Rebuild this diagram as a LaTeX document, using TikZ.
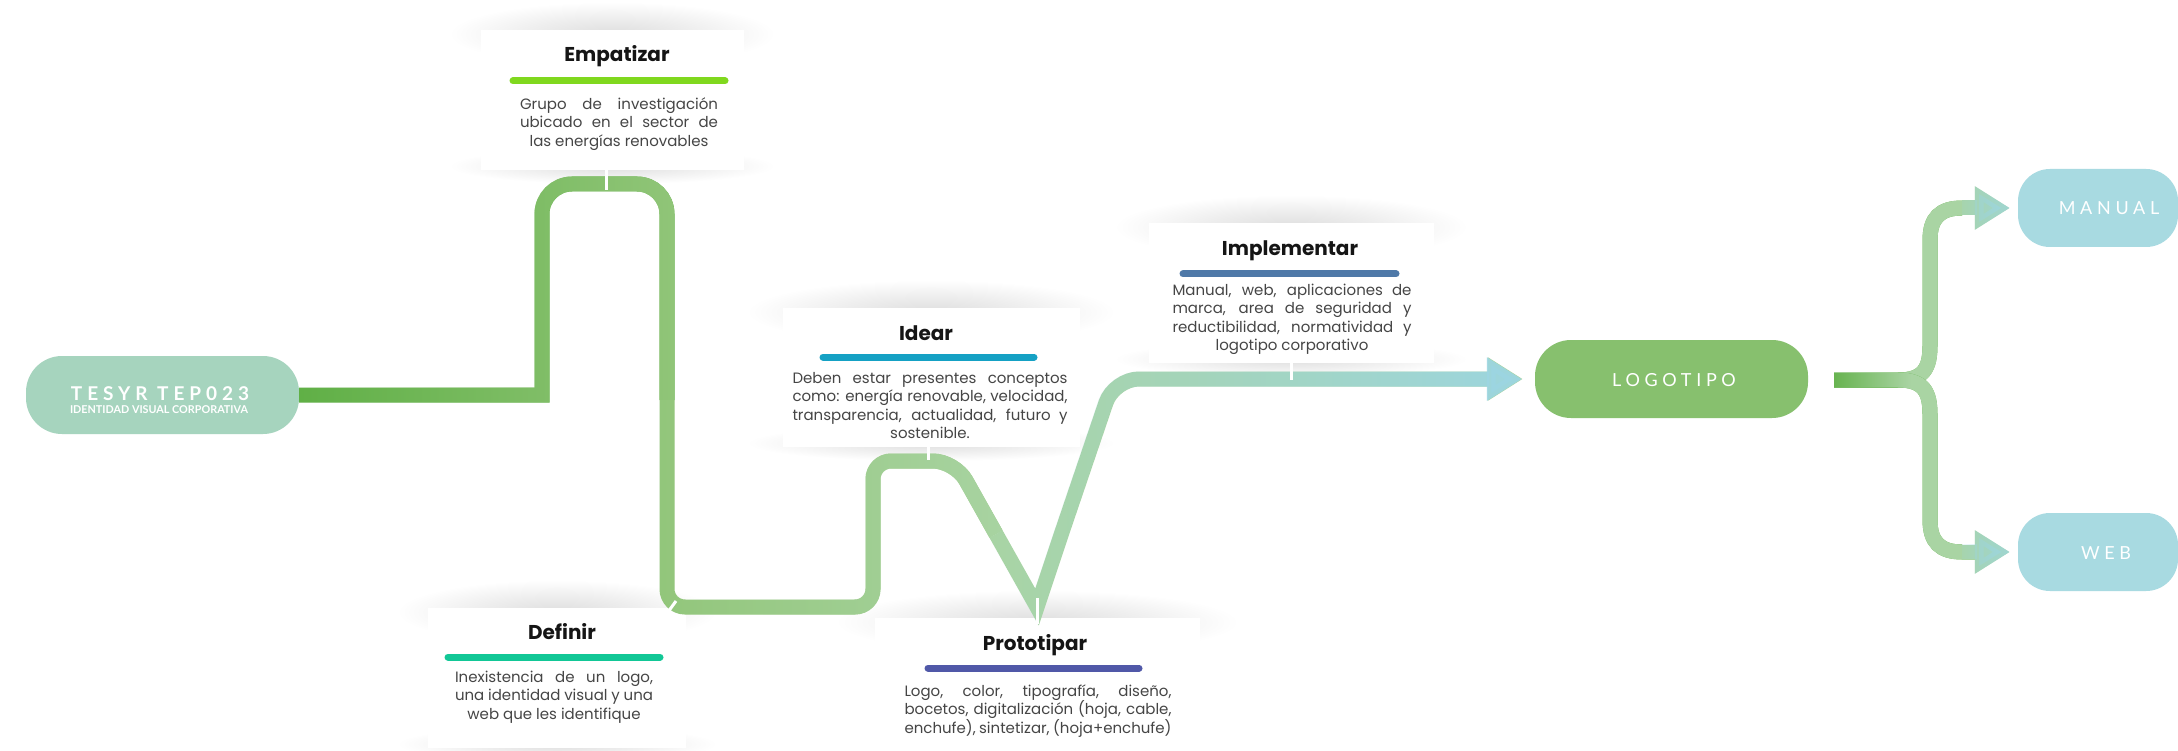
\documentclass[tikz,border=0pt]{standalone}
\usepackage{fontspec}
\setmainfont{Poppins}
\newfontfamily\boxfont[LetterSpace=26]{Lato}
\newfontfamily\subfont{Lato}
\usetikzlibrary{arrows.meta,fadings}
\definecolor{tesyrcol}{HTML}{A6D4BE}
\definecolor{logocol}{HTML}{87C06E}
\definecolor{bluecol}{HTML}{A8DAE1}
\definecolor{gA}{HTML}{5EAF44}
\definecolor{gB}{HTML}{92C67A}
\definecolor{gC}{HTML}{A9D4A3}
\definecolor{gD}{HTML}{9CD6E2}
\definecolor{empbar}{HTML}{80D81E}
\definecolor{defbar}{HTML}{12C796}
\definecolor{idebar}{HTML}{15A1C4}
\definecolor{impbar}{HTML}{4F79A8}
\definecolor{probar}{HTML}{5058A8}
\definecolor{titlecol}{HTML}{151515}
\definecolor{bodycol}{HTML}{454545}
\tikzfading[name=fadein, left color=transparent!100, right color=transparent!0]
\tikzfading[name=fadehalf, left color=transparent!100, right color=transparent!0, middle color=transparent!0]
\pgfdeclareradialshading{cshadow}{\pgfpoint{0bp}{0bp}}{color(0bp)=(black!13); color(12bp)=(black!7); color(25bp)=(white); color(50bp)=(white)}
\newcommand{\jline}[2]{\makebox[#1pt][s]{#2}}
\newcommand{\cshadows}[4]{%
  \shade[shading=cshadow] (#1,#2+4) ellipse ({0.62*#3} and 32);
  \shade[shading=cshadow] (#1,#2+#4-4) ellipse ({0.62*#3} and 18);
}
\begin{document}
\begin{tikzpicture}[x=1pt,y=-1pt,
  pill/.style={draw=none, rounded corners=36pt, inner sep=0pt, minimum height=78pt},
  cardbox/.style={fill=white, draw=none, inner sep=0pt, anchor=north},
  titletext/.style={font=\fontsize{20}{22}\selectfont\bfseries, text=titlecol, inner sep=0pt, anchor=base},
  bodytext/.style={font=\fontsize{15}{18.5}\selectfont, text=bodycol, inner sep=0pt, align=center},
  bar/.style={line width=7pt, line cap=round},
  tick/.style={draw=white, line width=3pt},
  pathline/.style={line width=15pt, line cap=butt},
  faded/.style={path fading=fadein, fit fading=true},
  halffaded/.style={path fading=fadehalf, fit fading=true},
  boxlabel/.style={text=white, inner sep=0pt, anchor=base},
  bigarrow/.style={-{Triangle[length=35pt,width=41pt]}},
]
\useasboundingbox[fill=white] (0,0) rectangle (2178,751);

% card shadows
\cshadows{612}{30}{263}{140}
\cshadows{931}{308}{297}{139}
\cshadows{1291}{223}{285}{140}
\cshadows{557}{608}{258}{140}
\cshadows{1037}{618}{325}{160}

% cards
\node[cardbox, minimum width=263pt, minimum height=140pt] (emp) at (612,30) {};
\node[cardbox, minimum width=297pt, minimum height=139pt] (ide) at (931,308) {};
\node[cardbox, minimum width=285pt, minimum height=140pt] (imp) at (1291,223) {};
\node[cardbox, minimum width=258pt, minimum height=140pt] (def) at (557,608) {};
\node[cardbox, minimum width=325pt, minimum height=160pt] (pro) at (1037,618) {};

% boxes
\node[pill, fill=tesyrcol, minimum width=273pt] (tesyr) at (162.5,395) {};
\node[pill, fill=logocol, minimum width=273pt] (logo) at (1671.5,379) {};
\node[pill, fill=bluecol, minimum width=160pt, rounded corners=32pt] (manual) at (2098,208) {};
\node[pill, fill=bluecol, minimum width=160pt, rounded corners=32pt] (web) at (2098,552) {};

\node[boxlabel, font=\boxfont\fontsize{19}{22}\selectfont\bfseries] (tesyr-t) at (160,400) {TESYR TEP023};
\node[boxlabel, font=\subfont\fontsize{10.8}{12}\selectfont\bfseries] (tesyr-s) at (159,413.5) {IDENTIDAD VISUAL CORPORATIVA};
\node[boxlabel, font=\boxfont\fontsize{18}{20}\selectfont] (logo-t) at (1674,386) {LOGOTIPO};
\node[boxlabel, font=\boxfont\fontsize{18}{20}\selectfont] (manual-t) at (2109,215) {MANUAL};
\node[boxlabel, font=\boxfont\fontsize{18}{20}\selectfont] (web-t) at (2106,559) {WEB};

% main path, piece 1
\draw[pathline, gA] (tesyr.east) -- (542,395) -- (542,300) [rounded corners=30pt] -- (542,184) -- (667,184) -- (667,400);
\draw[pathline, gB, faded] (289,170) (677,410) (tesyr.east) -- (542,395) -- (542,300) [rounded corners=30pt] -- (542,184) -- (667,184) -- (667,400);
% piece 2
\draw[pathline, gB] (667,400) [rounded corners=18pt] -- (667,607) -- (873,607) -- (873,461) [rounded corners=22pt] -- (955,461) -- (996,534);
\draw[pathline, gC, faded] (657,390) (1006,617) (667,400) [rounded corners=18pt] -- (667,607) -- (873,607) -- (873,461) [rounded corners=22pt] -- (955,461) -- (996,534);
% piece 3
\draw[pathline, gC, bigarrow, shorten >=12pt] (996,534) -- (1037,607) -- (1060,538) [rounded corners=25pt] -- (1114,379) -- (logo.west);
\draw[pathline, gD, bigarrow, shorten >=12pt, faded] (986,350) (1545,617) (996,534) -- (1037,607) -- (1060,538) [rounded corners=25pt] -- (1114,379) -- (logo.west);

% branches: brace part
\draw[pathline, gA] (logo.east) ++(26,1) coordinate (bst) -- (1898,380) .. controls (1924,380) and (1930,368) .. (1930,345) -- (1930,240) .. controls (1930,218) and (1940,208) .. (1962,208);
\draw[pathline, gC, halffaded] (1830,200) (1990,390) (bst) -- (1898,380) .. controls (1924,380) and (1930,368) .. (1930,345) -- (1930,240) .. controls (1930,218) and (1940,208) .. (1962,208);
\draw[pathline, gA] (bst) -- (1898,380) .. controls (1924,380) and (1930,392) .. (1930,415) -- (1930,520) .. controls (1930,542) and (1940,552) .. (1962,552);
\draw[pathline, gC, halffaded] (1830,370) (1990,560) (bst) -- (1898,380) .. controls (1924,380) and (1930,392) .. (1930,415) -- (1930,520) .. controls (1930,542) and (1940,552) .. (1962,552);
% branches: arrows
\draw[pathline, gC, bigarrow, shorten >=8pt] (1962,208) -- (manual.west);
\draw[pathline, gD, bigarrow, shorten >=8pt, faded] (1955,180) (2024,236) (1962,208) -- (manual.west);
\draw[pathline, gC, bigarrow, shorten >=8pt] (1962,552) -- (web.west);
\draw[pathline, gD, bigarrow, shorten >=8pt, faded] (1955,524) (2024,580) (1962,552) -- (web.west);

% ticks
\draw[tick] ([xshift=-6pt]emp.south) -- ++(0,20);
\draw[tick] ([xshift=-3pt]ide.south) -- ++(0,13);
\draw[tick] (imp.south) -- ++(0,17);
\draw[tick] ([xshift=111pt, yshift=-4pt]def.north) -- ++(8,-11);
\draw[tick] ([yshift=-6pt]pro.north) -- ([yshift=20pt]pro.north);

% titles and bars
\node[titletext] (emp-t) at (617,62) {Empatizar};
\draw[bar, empbar] (513,81) -- (725,81);
\node[bodytext] (emp-b) at (619,124) {\jline{198}{Grupo de investigación}\\ \jline{198}{ubicado en el sector de}\\ las energías renovables};

\node[titletext] (def-t) at (562,639) {Definir};
\draw[bar, defbar] (448,657) -- (660,657);
\node[bodytext] (def-b) at (554,697) {\jline{198}{Inexistencia de un logo,}\\ \jline{198}{una identidad visual y una}\\ web que les identifique};

\node[titletext] (ide-t) at (926,340) {Idear};
\draw[bar, idebar] (823,357) -- (1034,357);
\node[bodytext] (ide-b) at (930,405.5) {\jline{275}{Deben estar presentes conceptos}\\ \jline{275}{como: energía renovable, velocidad,}\\ \jline{275}{transparencia, actualidad, futuro y}\\ sostenible.};

\node[titletext] (imp-t) at (1290,255) {Implementar};
\draw[bar, impbar] (1183,274) -- (1396,274);
\node[bodytext] (imp-b) at (1292,319.5) {\jline{239}{Manual, web, aplicaciones de}\\ \jline{239}{marca, area de seguridad y}\\ \jline{239}{reductibilidad, normatividad y}\\ logotipo corporativo};

\node[titletext] (pro-t) at (1035,650) {Prototipar};
\draw[bar, probar] (928,668) -- (1139,668);
\node[bodytext] (pro-b) at (1038,711) {\jline{267}{Logo, color, tipografía, diseño,}\\ \jline{267}{bocetos, digitalización (hoja, cable,}\\ \jline{267}{enchufe), sintetizar, (hoja+enchufe)}};
\end{tikzpicture}
\end{document}
